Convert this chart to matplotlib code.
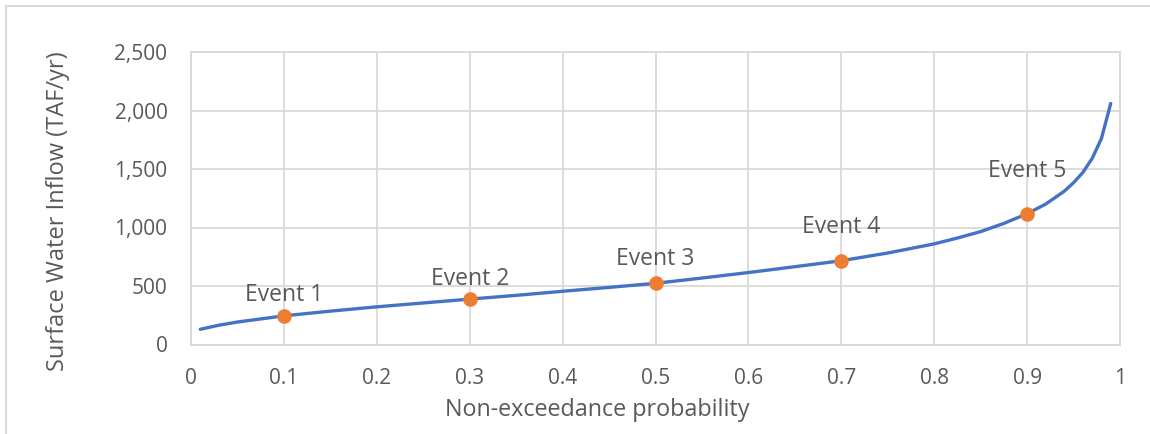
import matplotlib
matplotlib.use("Agg")
import matplotlib.pyplot as plt
from matplotlib.patches import Rectangle

# Data
prob = [0.01, 0.03, 0.05, 0.10, 0.15, 0.20, 0.25, 0.30, 0.35, 0.40, 0.45, 0.50,
        0.55, 0.60, 0.65, 0.70, 0.75, 0.80, 0.825, 0.85, 0.875, 0.90, 0.92, 0.94,
        0.95, 0.96, 0.97, 0.98, 0.99]
inflow = [130, 165, 192, 245, 285, 322, 355, 388, 420, 455, 488, 523,
          568, 615, 665, 716, 782, 860, 910, 965, 1035, 1118, 1200, 1310,
          1383, 1470, 1590, 1760, 2060]

event_prob = [0.1, 0.3, 0.5, 0.7, 0.9]
event_flow = [245, 390, 525, 715, 1118]
event_labels = ["Event 1", "Event 2", "Event 3", "Event 4", "Event 5"]

x_ticks = [0, 0.1, 0.2, 0.3, 0.4, 0.5, 0.6, 0.7, 0.8, 0.9, 1]
x_ticklabels = ["0", "0.1", "0.2", "0.3", "0.4", "0.5", "0.6", "0.7", "0.8", "0.9", "1"]
y_ticks = [0, 500, 1000, 1500, 2000, 2500]
y_ticklabels = ["0", "500", "1,000", "1,500", "2,000", "2,500"]

# label offsets in points (style)
label_offsets = [15, 14.5, 17, 24.5, 31]

W, H = 1150, 434
fig = plt.figure(figsize=(W / 100, H / 100), dpi=100)
plt.rcParams['font.family'] = ['Open Sans', 'DejaVu Sans']
txt = "#595959"
grid = "#d9d9d9"

# outer chart border (extends beyond right/bottom)
fig.patches.append(Rectangle((5.5 / W, -0.1), 1.2, 1 - 5.5 / H + 0.1,
                             transform=fig.transFigure, fill=False,
                             edgecolor=grid, linewidth=1.5))

left, right = 191 / W, 1120 / W
bottom, top = 1 - 344.5 / H, 1 - 52 / H
ax = fig.add_axes([left, bottom, right - left, top - bottom])

ax.plot(prob, inflow, color="#4472c4", linewidth=2.4, solid_capstyle="round",
        solid_joinstyle="round", zorder=3)
ax.plot(event_prob, event_flow, linestyle="none", marker="o", markersize=9.5,
        color="#ed7d31", zorder=4)
for xp, yp, lab, off in zip(event_prob, event_flow, event_labels, label_offsets):
    ax.annotate(lab, (xp, yp), xytext=(0, off), textcoords="offset points",
                ha="center", va="center", fontsize=16.5, color=txt)

ax.set_xlim(0, 1)
ax.set_ylim(0, 2500)
ax.set_xticks(x_ticks)
ax.set_xticklabels(x_ticklabels)
ax.set_yticks(y_ticks)
ax.set_yticklabels(y_ticklabels)
ax.tick_params(axis="both", length=0, labelsize=15, colors=txt)
ax.tick_params(axis="y", pad=17)
ax.tick_params(axis="x", pad=17)
ax.grid(True, color=grid, linewidth=1.3)
ax.set_axisbelow(True)
for s in ax.spines.values():
    s.set_color(grid)
    s.set_linewidth(1.3)

ax.set_xlabel("Non-exceedance probability", fontsize=16.8, color=txt, va="center")
ax.set_ylabel("Surface Water Inflow (TAF/yr)", fontsize=17, color=txt, va="center")
ax.xaxis.set_label_coords(0.4376, -0.224)
ax.yaxis.set_label_coords(-0.143, 0.455)

fig.savefig("out.png", dpi=100)
